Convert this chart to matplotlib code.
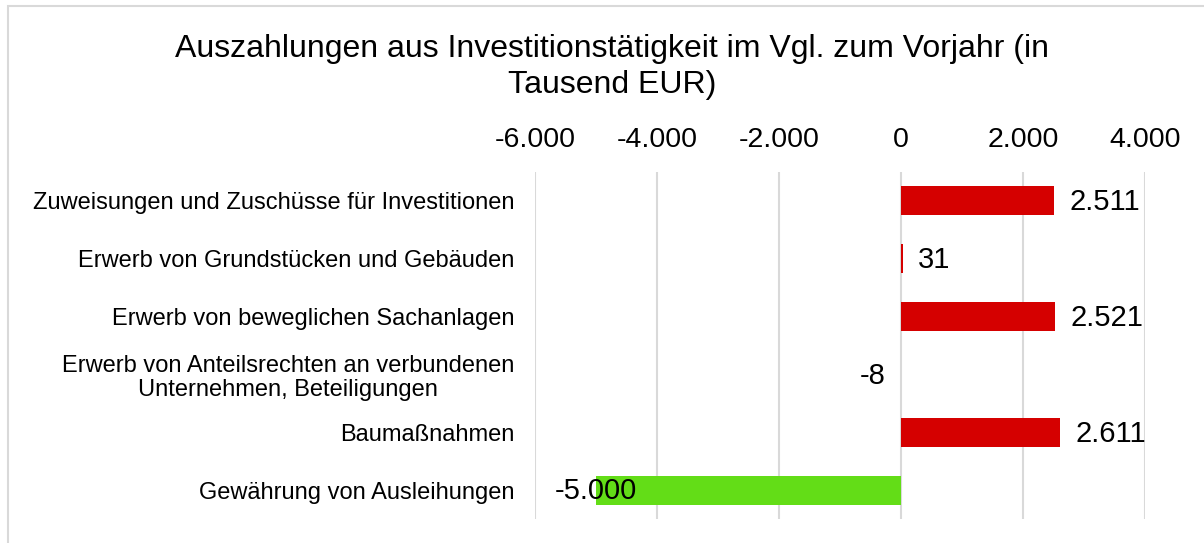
import numpy as np
import matplotlib.pyplot as plt
from matplotlib.ticker import FuncFormatter
from matplotlib.patches import Rectangle

categories = [
    "Zuweisungen und Zuschüsse für Investitionen",
    "Erwerb von Grundstücken und Gebäuden",
    "Erwerb von beweglichen Sachanlagen",
    "Erwerb von Anteilsrechten an verbundenen\nUnternehmen, Beteiligungen",
    "Baumaßnahmen",
    "Gewährung von Ausleihungen",
]
values = [2511, 31, 2521, -8, 2611, -5000]
xticks = [-6000, -4000, -2000, 0, 2000, 4000]

def de_fmt(v, pos=None):
    return f"{int(v):,}".replace(",", ".")

plt.rcParams['font.family'] = ['Liberation Sans', 'DejaVu Sans']

fig = plt.figure(figsize=(12.04, 5.43), dpi=100)
ax = fig.add_axes([535/1204, 1 - 519/543, (1145-535)/1204, (519-172)/543])

# figure border
fig.patches.append(Rectangle((8/1204, -0.01), 1.2, 1 - 6/543 + 0.01, transform=fig.transFigure,
                             fill=False, edgecolor='#d9d9d9', linewidth=1.5))

y = np.arange(len(categories))
colors = ['#d50000' if v >= 0 else '#63dd17' for v in values]
ax.barh(y, values, height=0.5, color=colors, zorder=3)

ax.set_ylim(len(categories) - 0.5, -0.5)
ax.set_xlim(-6000, 4000)
ax.set_xticks(xticks)
ax.xaxis.set_major_formatter(FuncFormatter(de_fmt))
ax.xaxis.tick_top()
ax.tick_params(axis='x', length=0, labelsize=20.5, pad=14)
ax.tick_params(axis='y', length=0, labelsize=17, pad=15)
ax.set_yticks(y)
ax.set_yticklabels(categories, multialignment='center', linespacing=1.15)
for s in ax.spines.values():
    s.set_visible(False)
ax.grid(axis='x', color='#d9d9d9', linewidth=1.5, zorder=0)
ax.set_axisbelow(True)

for yi, v in zip(y, values):
    if v > 0:
        ax.annotate(de_fmt(v), (v, yi), xytext=(11, -1), textcoords='offset points',
                    ha='left', va='center', fontsize=21, zorder=5)
    elif v > -100:
        ax.annotate(de_fmt(v), (v, yi), xytext=(-11, -1), textcoords='offset points',
                    ha='right', va='center', fontsize=21, zorder=5)
    else:
        ax.annotate(de_fmt(v), (v, yi), xytext=(0, -1), textcoords='offset points',
                    ha='center', va='center', fontsize=21, zorder=5)

fig.text(612/1204, 1 - 67/543, "Auszahlungen aus Investitionstätigkeit im Vgl. zum Vorjahr (in\nTausend EUR)",
         ha='center', va='center', fontsize=23, linespacing=1.3)

fig.savefig("out.png", dpi=100)
